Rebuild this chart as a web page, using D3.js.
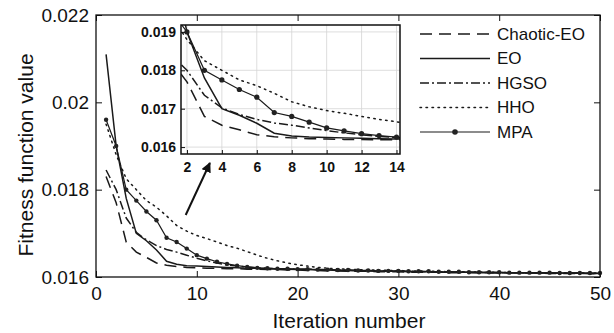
<!DOCTYPE html>
<html>
<head>
<meta charset="utf-8">
<script src="https://cdn.jsdelivr.net/npm/d3@7"></script>
<style>
  body { margin: 0; background: #fff; }
  text { font-family: "Liberation Sans", Arial, sans-serif; fill: #111; }
</style>
</head>
<body>
<div id="chart"></div>
<script>
// data
var iterations = d3.range(1, 51);

var chaoticEO = [0.0183, 0.0177, 0.0168, 0.01657, 0.01645, 0.01632, 0.01627, 0.01624, 0.01622, 0.01621,
    0.0162, 0.0162, 0.01619, 0.01619, 0.01618, 0.01618, 0.01617, 0.01617, 0.01616, 0.01616,
    0.01615, 0.01615, 0.01614, 0.01614, 0.01613, 0.01613, 0.01613, 0.01612, 0.01612, 0.01612,
    0.01611, 0.01611, 0.01611, 0.01611, 0.0161, 0.0161, 0.0161, 0.0161, 0.0161, 0.01609,
    0.01609, 0.01609, 0.01609, 0.01609, 0.01608, 0.01608, 0.01608, 0.01608, 0.01608, 0.01608];

var eo = [0.0211, 0.0190, 0.0178, 0.0170, 0.01683, 0.01662, 0.01636, 0.01629, 0.01626, 0.01625,
    0.01624, 0.01623, 0.01622, 0.01621, 0.0162, 0.0162, 0.01619, 0.01618, 0.01618, 0.01617,
    0.01617, 0.01616, 0.01616, 0.01615, 0.01615, 0.01614, 0.01614, 0.01613, 0.01613, 0.01613,
    0.01612, 0.01612, 0.01612, 0.01611, 0.01611, 0.01611, 0.01611, 0.0161, 0.0161, 0.0161,
    0.0161, 0.0161, 0.01609, 0.01609, 0.01609, 0.01609, 0.01609, 0.01609, 0.01608, 0.01608];

var hgso = [0.01845, 0.0180, 0.01735, 0.01702, 0.01685, 0.01672, 0.01663, 0.01657, 0.0165, 0.01643,
    0.01637, 0.01632, 0.01628, 0.01625, 0.01623, 0.01621, 0.0162, 0.01619, 0.01619, 0.01618,
    0.01618, 0.01617, 0.01617, 0.01616, 0.01616, 0.01615, 0.01615, 0.01614, 0.01614, 0.01613,
    0.01613, 0.01613, 0.01612, 0.01612, 0.01612, 0.01611, 0.01611, 0.01611, 0.0161, 0.0161,
    0.0161, 0.0161, 0.0161, 0.01609, 0.01609, 0.01609, 0.01609, 0.01609, 0.01608, 0.01608];

var hho = [0.0195, 0.0188, 0.01825, 0.0180, 0.01775, 0.0176, 0.0174, 0.01718, 0.01705, 0.01695,
    0.01688, 0.0168, 0.01672, 0.01666, 0.01658, 0.0165, 0.01643, 0.01637, 0.01632, 0.01628,
    0.01625, 0.01622, 0.0162, 0.01619, 0.01618, 0.01617, 0.01616, 0.01616, 0.01615, 0.01615,
    0.01614, 0.01614, 0.01613, 0.01613, 0.01612, 0.01612, 0.01612, 0.01611, 0.01611, 0.01611,
    0.0161, 0.0161, 0.0161, 0.0161, 0.01609, 0.01609, 0.01609, 0.01609, 0.01609, 0.01609];

var mpa = [0.0196, 0.0190, 0.0180, 0.01775, 0.0175, 0.0173, 0.0169, 0.0168, 0.01665, 0.0165,
    0.01642, 0.01635, 0.0163, 0.01626, 0.01623, 0.01621, 0.0162, 0.01619, 0.01619, 0.01618,
    0.01618, 0.01617, 0.01617, 0.01616, 0.01616, 0.01615, 0.01615, 0.01614, 0.01614, 0.01614,
    0.01613, 0.01613, 0.01613, 0.01612, 0.01612, 0.01612, 0.01611, 0.01611, 0.01611, 0.01611,
    0.0161, 0.0161, 0.0161, 0.0161, 0.0161, 0.01609, 0.01609, 0.01609, 0.01609, 0.01609];

var seriesNames = ["Chaotic-EO", "EO", "HGSO", "HHO", "MPA"];
var xTicks = [0, 10, 20, 30, 40, 50];
var yTicks = [0.016, 0.018, 0.02, 0.022];
var insetXTicks = [2, 4, 6, 8, 10, 12, 14];
var insetYTicks = [0.016, 0.017, 0.018, 0.019];
// arrow pointing at the zoomed region (iteration, value)
var arrowFrom = [8.9, 0.01742];
var arrowTo = [11.3, 0.01861];

var allSeries = [chaoticEO, eo, hgso, hho, mpa];
var dashes = ["12,7", null, "9,3,2,3", "1.5,4.5", null];

// set the dimensions and margins of the graph
var margin = { top: 15, right: 14, bottom: 56, left: 96 },
    width = 614 - margin.left - margin.right,
    height = 333 - margin.top - margin.bottom;

var root = d3.select("#chart")
    .append("svg")
    .attr("width", 614)
    .attr("height", 333);

var svg = root.append("g")
    .attr("transform", "translate(" + margin.left + "," + margin.top + ")");

var x = d3.scaleLinear().domain([0, 50]).range([0, width]);
var y = d3.scaleLinear().domain([0.016, 0.022]).range([height, 0]);

function fmt(d) { return String(+d.toFixed(3)); }

function drawLines(g, xs, ys, markerR) {
    allSeries.forEach(function (vals, k) {
        var pts = vals.map(function (v, i) { return [iterations[i], v]; });
        g.append("path")
            .datum(pts)
            .attr("fill", "none")
            .attr("stroke", "#1a1a1a")
            .attr("stroke-width", k == 4 ? 1.2 : 1.5)
            .attr("stroke-dasharray", dashes[k])
            .attr("stroke-linecap", k == 3 ? "round" : "butt")
            .attr("d", d3.line()
                .x(function (d) { return xs(d[0]) })
                .y(function (d) { return ys(d[1]) })
            );
        if (k == 4) {
            g.append("g")
                .selectAll("circle")
                .data(pts)
                .enter()
                .append("circle")
                .attr("cx", function (d) { return xs(d[0]) })
                .attr("cy", function (d) { return ys(d[1]) })
                .attr("r", markerR)
                .attr("fill", "#222");
        }
    });
}

// main axes
var gx = svg.append("g")
    .attr("transform", "translate(0," + height + ")")
    .call(d3.axisBottom(x).tickValues(xTicks).tickSize(-6).tickPadding(10));
var gy = svg.append("g")
    .call(d3.axisLeft(y).tickValues(yTicks).tickFormat(fmt).tickSize(-6).tickPadding(7));
svg.append("g")
    .call(d3.axisTop(x).tickValues(xTicks).tickSize(-6).tickFormat(""));
svg.append("g")
    .attr("transform", "translate(" + width + ",0)")
    .call(d3.axisRight(y).tickValues(yTicks).tickSize(-6).tickFormat(""));
svg.selectAll(".domain").remove();
svg.selectAll(".tick line").attr("stroke", "#111");
gx.selectAll("text").style("font-size", "19px").attr("fill", "#111");
gy.selectAll("text").style("font-size", "19px").attr("fill", "#111");

drawLines(svg.append("g"), x, y, 2.2);

svg.append("rect")
    .attr("width", width).attr("height", height)
    .attr("fill", "none").attr("stroke", "#111").attr("stroke-width", 1.3);

// axis labels
root.append("text")
    .text("Iteration number")
    .attr("x", 349).attr("y", 328)
    .attr("text-anchor", "middle")
    .style("font-size", "21px");
root.append("text")
    .text("Fitness function value")
    .attr("transform", "translate(33,155) rotate(-90)")
    .attr("text-anchor", "middle")
    .style("font-size", "21px");

// arrow
var defs = root.append("defs");
defs.append("marker")
    .attr("id", "head")
    .attr("viewBox", "0 0 10 10")
    .attr("refX", 9).attr("refY", 5)
    .attr("markerWidth", 5).attr("markerHeight", 5)
    .attr("orient", "auto")
    .append("path")
    .attr("d", "M0,0 L10,5 L0,10 z")
    .attr("fill", "#111");
svg.append("line")
    .attr("x1", x(arrowFrom[0])).attr("y1", y(arrowFrom[1]))
    .attr("x2", x(arrowTo[0])).attr("y2", y(arrowTo[1]))
    .attr("stroke", "#111").attr("stroke-width", 2)
    .attr("marker-end", "url(#head)");

// inset
var inset = { left: 181, top: 25, width: 219, height: 129 };
var ix = d3.scaleLinear().domain([1.66, 14.2]).range([0, inset.width]);
var iy = d3.scaleLinear().domain([0.01582, 0.01918]).range([inset.height, 0]);

var gi = root.append("g")
    .attr("transform", "translate(" + inset.left + "," + inset.top + ")");
gi.append("rect")
    .attr("width", inset.width).attr("height", inset.height)
    .attr("fill", "#fff");

// grid
gi.append("g").selectAll("line.vx")
    .data(insetXTicks).enter().append("line")
    .attr("x1", function (d) { return ix(d) }).attr("x2", function (d) { return ix(d) })
    .attr("y1", 0).attr("y2", inset.height)
    .attr("stroke", "#d4d4d4").attr("stroke-width", 0.8);
gi.append("g").selectAll("line.hy")
    .data(insetYTicks).enter().append("line")
    .attr("y1", function (d) { return iy(d) }).attr("y2", function (d) { return iy(d) })
    .attr("x1", 0).attr("x2", inset.width)
    .attr("stroke", "#d4d4d4").attr("stroke-width", 0.8);

defs.append("clipPath").attr("id", "insetClip")
    .append("rect").attr("width", inset.width).attr("height", inset.height);
drawLines(gi.append("g").attr("clip-path", "url(#insetClip)"), ix, iy, 2.6);

var gix = gi.append("g")
    .attr("transform", "translate(0," + inset.height + ")")
    .call(d3.axisBottom(ix).tickValues(insetXTicks).tickSize(-4).tickPadding(8));
var giy = gi.append("g")
    .call(d3.axisLeft(iy).tickValues(insetYTicks).tickFormat(fmt).tickSize(-4).tickPadding(5));
gi.selectAll(".domain").remove();
gi.selectAll(".tick line").attr("stroke", "#111");
gi.selectAll(".tick text").style("font-size", "14px").style("font-weight", "bold").attr("fill", "#222");
gi.append("rect")
    .attr("width", inset.width).attr("height", inset.height)
    .attr("fill", "none").attr("stroke", "#111").attr("stroke-width", 1.5);

// legend
var lg = root.append("g").attr("transform", "translate(420,34)");
seriesNames.forEach(function (name, k) {
    var row = lg.append("g").attr("transform", "translate(0," + (k * 24.5) + ")");
    row.append("line")
        .attr("x1", 0).attr("x2", 70)
        .attr("stroke", "#1a1a1a")
        .attr("stroke-width", k == 4 ? 1.2 : 1.5)
        .attr("stroke-dasharray", dashes[k])
        .attr("stroke-linecap", k == 3 ? "round" : "butt");
    if (k == 4) {
        row.append("circle").attr("cx", 35).attr("r", 2.8).attr("fill", "#222");
    }
    row.append("text")
        .text(name)
        .attr("x", 77).attr("dy", "0.35em")
        .style("font-size", "17px");
});
</script>
</body>
</html>
